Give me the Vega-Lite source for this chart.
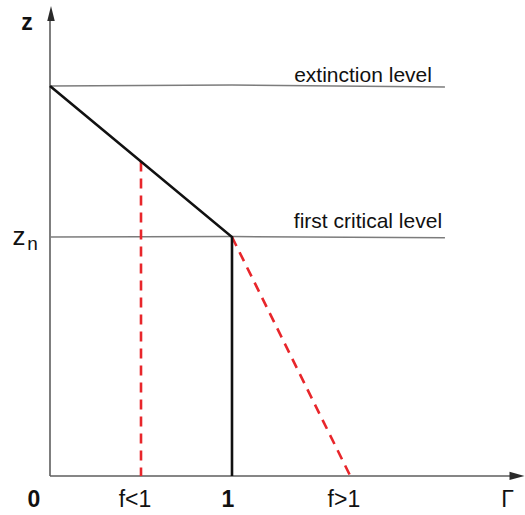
{
  "$schema": "https://vega.github.io/schema/vega-lite/v6.json",
  "width": 525,
  "height": 515,
  "padding": 0,
  "autosize": {"type": "fit", "contains": "padding"},
  "background": "white",
  "config": {"view": {"stroke": null}},
  "datasets": {
    "paths": [
      {"id": "zaxis", "kind": "axis", "ord": 0, "g": 0, "z": 0},
      {"id": "zaxis", "kind": "axis", "ord": 1, "g": 0, "z": 1.92},
      {"id": "gaxis", "kind": "axis", "ord": 0, "g": 0, "z": 0},
      {"id": "gaxis", "kind": "axis", "ord": 1, "g": 2.56, "z": 0},
      {"id": "extinction", "kind": "level", "ord": 0, "g": 0, "z": 1.632},
      {"id": "extinction", "kind": "level", "ord": 1, "g": 1.0, "z": 1.636},
      {"id": "extinction", "kind": "level", "ord": 2, "g": 2.17, "z": 1.628},
      {"id": "critical", "kind": "level", "ord": 0, "g": 0, "z": 1.0},
      {"id": "critical", "kind": "level", "ord": 1, "g": 1.0, "z": 1.002},
      {"id": "critical", "kind": "level", "ord": 2, "g": 2.17, "z": 0.997},
      {"id": "neutral", "kind": "solid", "ord": 0, "g": 0, "z": 1.632},
      {"id": "neutral", "kind": "solid", "ord": 1, "g": 1, "z": 1.0},
      {"id": "neutral", "kind": "solid", "ord": 2, "g": 1, "z": 0},
      {"id": "fless", "kind": "dashed", "ord": 0, "g": 0.5, "z": 1.316},
      {"id": "fless", "kind": "dashed", "ord": 1, "g": 0.5, "z": 0},
      {"id": "fmore", "kind": "dashed", "ord": 0, "g": 1, "z": 1.0},
      {"id": "fmore", "kind": "dashed", "ord": 1, "g": 1.65, "z": 0}
    ],
    "arrows": [
      {"g": 0.0055, "z": 1.935, "shape": "M0,-1L0.5,1L-0.5,1Z"},
      {"g": 2.566, "z": 0, "shape": "M1,0L-1,0.55L-1,-0.55Z"}
    ],
    "labels": [
      {"text": "extinction level", "g": 1.72, "z": 1.649, "style": "level"},
      {"text": "first critical level", "g": 1.747, "z": 1.038, "style": "level"},
      {"text": "z", "g": -0.126, "z": 1.866, "style": "zbold"},
      {"text": "z", "g": -0.170, "z": 0.9665, "style": "zn"},
      {"text": "n", "g": -0.096, "z": 0.9456, "style": "sub"},
      {"text": "0", "g": -0.088, "z": -0.1297, "style": "tickbold"},
      {"text": "f<1", "g": 0.467, "z": -0.1297, "style": "tick"},
      {"text": "1", "g": 0.978, "z": -0.1297, "style": "tickbold"},
      {"text": "f>1", "g": 1.615, "z": -0.1297, "style": "tick"},
      {"text": "Γ", "g": 2.514, "z": -0.1297, "style": "tick"}
    ]
  },
  "encoding": {
    "x": {"field": "g", "type": "quantitative", "scale": {"domain": [-0.2747, 2.6099], "nice": false, "zero": false}, "axis": null},
    "y": {"field": "z", "type": "quantitative", "scale": {"domain": [-0.1632, 1.9916], "nice": false, "zero": false}, "axis": null}
  },
  "layer": [
    {
      "data": {"name": "paths"},
      "transform": [{"filter": "datum.kind === 'axis'"}],
      "mark": {"type": "line", "color": "#5e5e5e", "strokeWidth": 1.6},
      "encoding": {"detail": {"field": "id"}, "order": {"field": "ord"}}
    },
    {
      "data": {"name": "paths"},
      "transform": [{"filter": "datum.kind === 'level'"}],
      "mark": {"type": "line", "color": "#7c7c7c", "strokeWidth": 1.5},
      "encoding": {"detail": {"field": "id"}, "order": {"field": "ord"}}
    },
    {
      "data": {"name": "paths"},
      "transform": [{"filter": "datum.kind === 'dashed'"}],
      "mark": {"type": "line", "color": "#e8262b", "strokeWidth": 2.6, "strokeDash": [10, 7]},
      "encoding": {"detail": {"field": "id"}, "order": {"field": "ord"}}
    },
    {
      "data": {"name": "paths"},
      "transform": [{"filter": "datum.kind === 'solid'"}],
      "mark": {"type": "line", "color": "#111111", "strokeWidth": 2.6},
      "encoding": {"detail": {"field": "id"}, "order": {"field": "ord"}}
    },
    {
      "data": {"name": "arrows"},
      "mark": {"type": "point", "filled": true, "color": "#2a2a2a", "opacity": 1, "size": 225},
      "encoding": {"shape": {"field": "shape", "type": "nominal", "scale": null}}
    },
    {
      "data": {"name": "labels"},
      "transform": [{"filter": "datum.style === 'level'"}],
      "mark": {"type": "text", "font": "Liberation Sans", "fontSize": 21, "color": "#111111", "align": "center", "baseline": "alphabetic"},
      "encoding": {"text": {"field": "text"}}
    },
    {
      "data": {"name": "labels"},
      "transform": [{"filter": "datum.style === 'tick'"}],
      "mark": {"type": "text", "font": "Liberation Sans", "fontSize": 23, "color": "#111111", "align": "center", "baseline": "alphabetic"},
      "encoding": {"text": {"field": "text"}}
    },
    {
      "data": {"name": "labels"},
      "transform": [{"filter": "datum.style === 'tickbold'"}],
      "mark": {"type": "text", "font": "Liberation Sans", "fontSize": 23, "fontWeight": "bold", "color": "#111111", "align": "center", "baseline": "alphabetic"},
      "encoding": {"text": {"field": "text"}}
    },
    {
      "data": {"name": "labels"},
      "transform": [{"filter": "datum.style === 'zbold'"}],
      "mark": {"type": "text", "font": "Liberation Sans", "fontSize": 23, "fontWeight": "bold", "color": "#111111", "align": "center", "baseline": "alphabetic"},
      "encoding": {"text": {"field": "text"}}
    },
    {
      "data": {"name": "labels"},
      "transform": [{"filter": "datum.style === 'zn'"}],
      "mark": {"type": "text", "font": "Liberation Sans", "fontSize": 26, "color": "#111111", "align": "center", "baseline": "alphabetic"},
      "encoding": {"text": {"field": "text"}}
    },
    {
      "data": {"name": "labels"},
      "transform": [{"filter": "datum.style === 'sub'"}],
      "mark": {"type": "text", "font": "Liberation Sans", "fontSize": 19, "color": "#111111", "align": "center", "baseline": "alphabetic"},
      "encoding": {"text": {"field": "text"}}
    }
  ]
}
